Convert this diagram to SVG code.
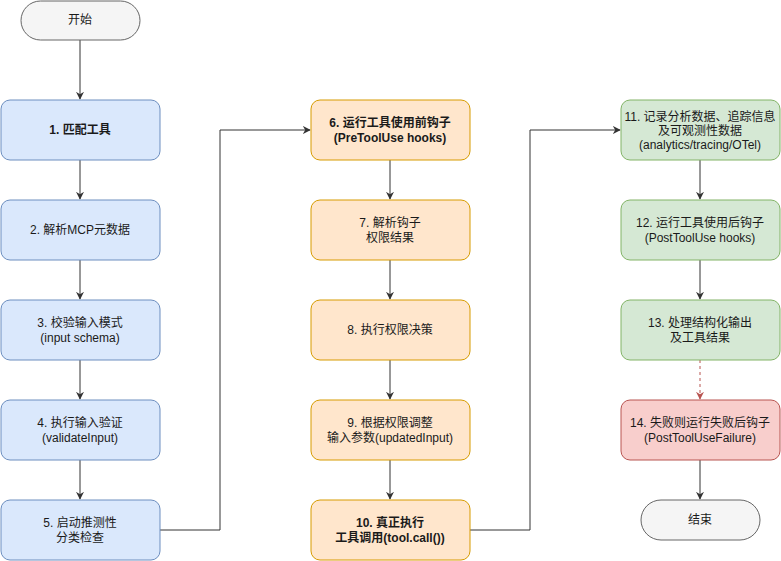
<svg xmlns="http://www.w3.org/2000/svg" width="781" height="561" viewBox="0 0 781 561">
<defs>
<style>
text{font-family:"Liberation Sans","Noto Sans CJK SC",sans-serif;font-size:12px;fill:#1a1a1a;text-anchor:middle}
.b{font-weight:bold}
.blue{fill:#dae8fc;stroke:#6c8ebf}
.org{fill:#ffe6cc;stroke:#d79b00}
.grn{fill:#d5e8d4;stroke:#82b366}
.red{fill:#f8cecc;stroke:#b85450}
.pill{fill:#f5f5f5;stroke:#666666}
.c{fill:none;stroke:#333333;stroke-width:1}
.d{fill:none;stroke:#b85450;stroke-width:1;stroke-dasharray:3 3}
</style>
<marker id="a" viewBox="0 0 10 10" refX="9" refY="5" markerWidth="8" markerHeight="8" orient="auto" markerUnits="userSpaceOnUse">
<path d="M0,0 L10,5 L0,10 L3,5 Z" fill="#333333"/>
</marker>
<marker id="ar" viewBox="0 0 10 10" refX="9" refY="5" markerWidth="8" markerHeight="8" orient="auto" markerUnits="userSpaceOnUse">
<path d="M0,0 L10,5 L0,10 L3,5 Z" fill="#b85450"/>
</marker>
</defs>
<rect width="781" height="561" fill="#ffffff"/>
<g id="connectors">
<path class="c" d="M80,40 V99" marker-end="url(#a)"/>
<path class="c" d="M80,160 V199" marker-end="url(#a)"/>
<path class="c" d="M80,260 V299" marker-end="url(#a)"/>
<path class="c" d="M80,360 V399" marker-end="url(#a)"/>
<path class="c" d="M80,460 V499" marker-end="url(#a)"/>
<path class="c" d="M160,530 H220 V130 H310" marker-end="url(#a)"/>
<path class="c" d="M390,160 V199" marker-end="url(#a)"/>
<path class="c" d="M390,260 V299" marker-end="url(#a)"/>
<path class="c" d="M390,360 V399" marker-end="url(#a)"/>
<path class="c" d="M390,460 V499" marker-end="url(#a)"/>
<path class="c" d="M470,530 H530 V130 H620" marker-end="url(#a)"/>
<path class="c" d="M700,160 V199" marker-end="url(#a)"/>
<path class="c" d="M700,260 V299" marker-end="url(#a)"/>
<path class="d" d="M700,360 V399" marker-end="url(#ar)"/>
<path class="c" d="M700,460 V499" marker-end="url(#a)"/>
</g>
<g id="start"><rect class="pill" x="21" y="1" width="119" height="39" rx="19.5"/><text x="80" y="24">开始</text></g>
<g id="n1"><rect class="blue" x="1" y="100" width="159" height="60" rx="9"/><text class="b" x="80" y="134">1. 匹配工具</text></g>
<g id="n2"><rect class="blue" x="1" y="200" width="159" height="60" rx="9"/><text x="80" y="234">2. 解析MCP元数据</text></g>
<g id="n3"><rect class="blue" x="1" y="300" width="159" height="60" rx="9"/><text x="80" y="327">3. 校验输入模式</text><text x="80" y="342">(input schema)</text></g>
<g id="n4"><rect class="blue" x="1" y="400" width="159" height="60" rx="9"/><text x="80" y="427">4. 执行输入验证</text><text x="80" y="442">(validateInput)</text></g>
<g id="n5"><rect class="blue" x="1" y="500" width="159" height="60" rx="9"/><text x="80" y="527">5. 启动推测性</text><text x="80" y="542">分类检查</text></g>
<g id="n6"><rect class="org" x="311" y="100" width="159" height="60" rx="9"/><text class="b" x="390" y="127">6. 运行工具使用前钩子</text><text class="b" x="390" y="142">(PreToolUse hooks)</text></g>
<g id="n7"><rect class="org" x="311" y="200" width="159" height="60" rx="9"/><text x="390" y="227">7. 解析钩子</text><text x="390" y="242">权限结果</text></g>
<g id="n8"><rect class="org" x="311" y="300" width="159" height="60" rx="9"/><text x="390" y="334">8. 执行权限决策</text></g>
<g id="n9"><rect class="org" x="311" y="400" width="159" height="60" rx="9"/><text x="390" y="427">9. 根据权限调整</text><text x="390" y="442">输入参数(updatedInput)</text></g>
<g id="n10"><rect class="org" x="311" y="500" width="159" height="60" rx="9"/><text class="b" x="390" y="527">10. 真正执行</text><text class="b" x="390" y="542">工具调用(tool.call())</text></g>
<g id="n11"><rect class="grn" x="621" y="100" width="159" height="60" rx="9"/><text x="700" y="121">11. 记录分析数据、追踪信息</text><text x="700" y="135">及可观测性数据</text><text x="700" y="149">(analytics/tracing/OTel)</text></g>
<g id="n12"><rect class="grn" x="621" y="200" width="159" height="60" rx="9"/><text x="700" y="227">12. 运行工具使用后钩子</text><text x="700" y="242">(PostToolUse hooks)</text></g>
<g id="n13"><rect class="grn" x="621" y="300" width="159" height="60" rx="9"/><text x="700" y="327">13. 处理结构化输出</text><text x="700" y="342">及工具结果</text></g>
<g id="n14"><rect class="red" x="621" y="400" width="159" height="60" rx="9"/><text x="700" y="427">14. 失败则运行失败后钩子</text><text x="700" y="442">(PostToolUseFailure)</text></g>
<g id="end"><rect class="pill" x="641" y="500" width="119" height="40" rx="20"/><text x="700" y="524">结束</text></g>
</svg>
